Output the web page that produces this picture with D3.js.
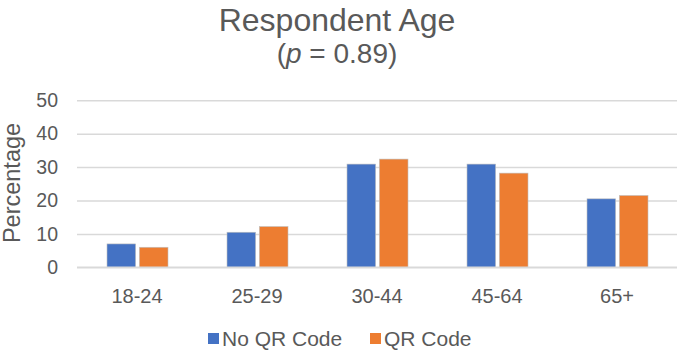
<!DOCTYPE html>
<html>
<head>
<meta charset="utf-8">
<script src="https://cdn.jsdelivr.net/npm/d3@7"></script>
<style>
  html, body { margin: 0; padding: 0; background: #fff; }
  svg { display: block; font-family: "Liberation Sans", Arial, sans-serif; }
</style>
</head>
<body>
<svg id="chart" width="680" height="354"></svg>
<script>
// Age groups and percentage of respondents in each survey version
const categories = ["18-24", "25-29", "30-44", "45-64", "65+"];
const seriesNames = ["No QR Code", "QR Code"];
const noQrValues = [7.0, 10.5, 30.9, 30.9, 20.5];
const qrValues = [6.0, 12.2, 32.4, 28.2, 21.5];
const yTicks = [0, 10, 20, 30, 40, 50];
const colors = ["#4472C4", "#ED7D31"];

const svg = d3.select("#chart");
const textColor = "#595959";
const font = "Liberation Sans, Arial, sans-serif";

const x = d3.scaleBand().domain(categories).range([77, 677]);
const x1 = d3.scaleBand().domain(seriesNames).range([30, 91]).paddingInner(0.115);
const y = d3.scaleLinear().domain([0, 50]).range([267.3, 100.3]);

// Title
svg.append("text").attr("x", 337).attr("y", 31).attr("text-anchor", "middle")
  .attr("font-size", 32).attr("fill", textColor).text("Respondent Age");
const sub = svg.append("text").attr("x", 337).attr("y", 63).attr("text-anchor", "middle")
  .attr("font-size", 28).attr("fill", textColor);
sub.append("tspan").text("(");
sub.append("tspan").attr("font-style", "italic").text("p");
sub.append("tspan").text(" = 0.89)");

// Gridlines
const grid = d3.axisLeft(y).tickValues(yTicks).tickSize(-600).tickFormat("");
svg.append("g").attr("transform", "translate(77,0)").call(grid)
  .call(g => g.select(".domain").remove())
  .call(g => g.selectAll("line").attr("stroke", "#D9D9D9").attr("stroke-width", 1.5));

// Y axis labels
const yAxis = d3.axisLeft(y).tickValues(yTicks).tickSize(0).tickPadding(0);
svg.append("g").attr("transform", "translate(58,0)").call(yAxis)
  .call(g => g.select(".domain").remove())
  .call(g => g.selectAll("text").attr("font-size", 19.5).attr("fill", textColor)
    .attr("font-family", font));

svg.append("text").attr("transform", "translate(20,183) rotate(-90)")
  .attr("text-anchor", "middle").attr("font-size", 23.5).attr("fill", textColor)
  .text("Percentage");

// Bars
const rows = categories.map((c, i) => ({ cat: c, vals: [noQrValues[i], qrValues[i]] }));
const groups = svg.append("g").selectAll("g").data(rows).join("g")
  .attr("transform", d => `translate(${x(d.cat)},0)`);
groups.selectAll("rect")
  .data(d => d.vals.map((v, j) => ({ name: seriesNames[j], v, j })))
  .join("rect")
  .attr("x", d => x1(d.name))
  .attr("width", x1.bandwidth())
  .attr("y", d => y(d.v))
  .attr("height", d => y(0) - y(d.v))
  .attr("fill", d => colors[d.j])
  .attr("stroke", "#BFBFBF").attr("stroke-width", 0.6);

// X axis line and labels
svg.append("line").attr("x1", 77).attr("x2", 677).attr("y1", y(0)).attr("y2", y(0))
  .attr("stroke", "#D9D9D9").attr("stroke-width", 1.5);
const xAxis = d3.axisBottom(x).tickSize(0).tickPadding(0);
svg.append("g").attr("transform", "translate(0,289)").call(xAxis)
  .call(g => g.select(".domain").remove())
  .call(g => g.selectAll("text").attr("font-size", 20).attr("fill", textColor)
    .attr("font-family", font));

// Legend
const legendItems = [
  { name: seriesNames[0], color: colors[0], x: 208 },
  { name: seriesNames[1], color: colors[1], x: 370 }
];
const lg = svg.append("g").selectAll("g").data(legendItems).join("g")
  .attr("transform", d => `translate(${d.x},333)`);
lg.append("rect").attr("width", 11).attr("height", 11).attr("fill", d => d.color);
lg.append("text").attr("x", 14).attr("y", 12.5).attr("font-size", 21)
  .attr("fill", textColor).text(d => d.name);
</script>
</body>
</html>
